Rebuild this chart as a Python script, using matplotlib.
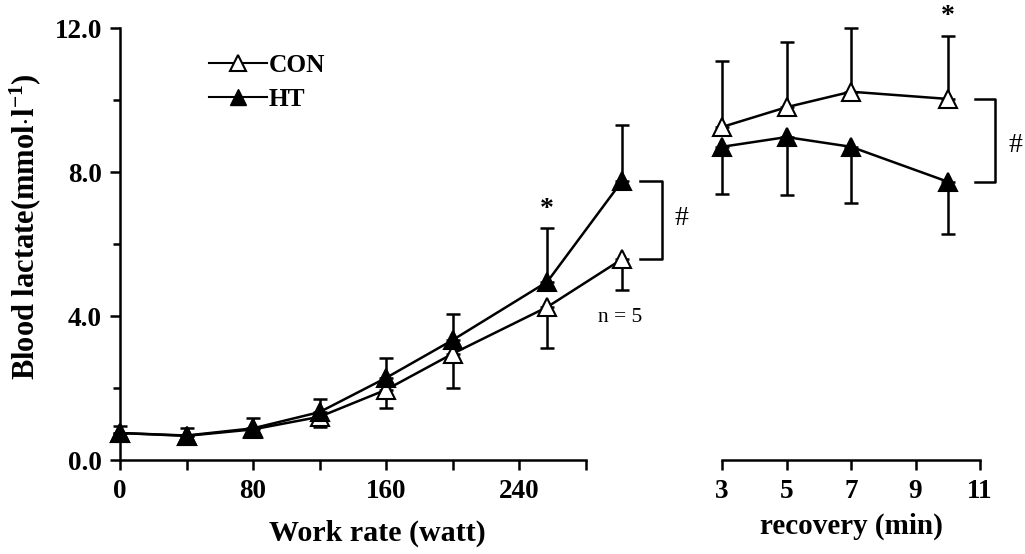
import matplotlib
matplotlib.use("Agg")
import matplotlib.pyplot as plt
from matplotlib.lines import Line2D
import numpy as np

plt.rcParams['font.family'] = ['Liberation Serif', 'DejaVu Serif']
plt.rcParams['mathtext.fontset'] = 'custom'
plt.rcParams['mathtext.rm'] = 'Liberation Serif:bold'
plt.rcParams['mathtext.bf'] = 'Liberation Serif:bold'
plt.rcParams['mathtext.default'] = 'rm'

# ---- data ----
work_rate = [0, 40, 80, 120, 160, 200, 257, 302]
con_work = [0.75, 0.67, 0.85, 1.2, 1.95, 2.95, 4.25, 5.58]
con_work_sd = [0.2, 0.15, 0.2, 0.28, 0.5, 0.95, 1.15, 0.85]
ht_work = [0.75, 0.68, 0.88, 1.33, 2.28, 3.33, 4.95, 7.75]
ht_work_sd = [0.2, 0.2, 0.28, 0.36, 0.55, 0.72, 1.5, 1.55]

recovery = [3, 5, 7, 10]
con_rec = [9.25, 9.8, 10.23, 10.03]
con_rec_sd = [1.83, 1.8, 1.77, 1.75]
ht_rec = [8.7, 8.97, 8.7, 7.73]
ht_rec_sd = [1.3, 1.6, 1.57, 1.45]

x_ticks_work = [0, 40, 80, 120, 160, 200, 240, 280]
x_labels_work = ['0', '', '80', '', '160', '', '240', '']
y_ticks = [0.0, 4.0, 8.0, 12.0]
x_ticks_rec = [3, 5, 7, 9, 11]

W, H = 1025, 554
fig = plt.figure(figsize=(W / 100, H / 100), dpi=100)

def fbox(x0, x1, y_top, y_bot):
    return [x0 / W, 1 - y_bot / H, (x1 - x0) / W, (y_bot - y_top) / H]

# left axes: 0 W -> 120px, 1.6625 px/W ; y 0 -> 460px, 12 -> 28px
axL = fig.add_axes(fbox(120, 120 + 320 * 1.6625, 28, 460))
axR = fig.add_axes(fbox(722, 980, 28, 460))

lw = 1.8
ms = 13
cap = 5
tfs = 19.5
bold = dict(fontweight='bold')

def draw(ax, x, y, sd, filled, lower):
    yerr = [sd, [0] * len(sd)] if lower else [[0] * len(sd), sd]
    ax.errorbar(x, y, yerr=yerr, fmt='none', ecolor='black', elinewidth=lw,
                capsize=cap, capthick=lw, clip_on=False, zorder=2)
    ax.plot(x, y, '-', color='black', lw=lw, marker='^', ms=ms,
            mfc='black' if filled else 'white', mec='black', mew=1.5,
            clip_on=False, zorder=3)

draw(axL, work_rate, con_work, con_work_sd, False, True)
draw(axL, work_rate, ht_work, ht_work_sd, True, False)
draw(axR, recovery, con_rec, con_rec_sd, False, False)
draw(axR, recovery, ht_rec, ht_rec_sd, True, True)

for ax in (axL, axR):
    ax.set_ylim(0, 12)
    ax.spines['top'].set_visible(False)
    ax.spines['right'].set_visible(False)
    ax.spines['bottom'].set_linewidth(lw)
    ax.spines['left'].set_linewidth(lw)
    ax.tick_params(axis='both', which='major', direction='out', length=7,
                   width=lw, labelsize=tfs, pad=7)
    ax.tick_params(axis='both', which='minor', direction='out', length=5, width=lw)
    ax.patch.set_visible(False)

axL.set_xlim(0, 320)
axL.spines['bottom'].set_bounds(0, 280)
axL.spines['left'].set_bounds(0, 12)
axL.set_xticks(x_ticks_work)
axL.set_xticklabels(x_labels_work, **bold)
axL.set_yticks(y_ticks)
axL.set_yticklabels([f'{v:.1f}' for v in y_ticks], **bold)
axL.set_yticks([2, 6, 10], minor=True)
axL.tick_params(axis='y', pad=6)

axR.set_xlim(3, 11)
axR.spines['left'].set_visible(False)
axR.set_yticks([])
axR.set_xticks(x_ticks_rec)
axR.set_xticklabels([str(v) for v in x_ticks_rec], **bold)
axR.spines['bottom'].set_bounds(3, 11)

# brackets and annotations
axL.plot([313, 326, 326, 313], [ht_work[-1], ht_work[-1], con_work[-1], con_work[-1]],
         color='black', lw=lw, clip_on=False)
axL.text(338, 6.7, '#', fontsize=20, ha='center', va='center')
axL.text(257, ht_work[6] + ht_work_sd[6] + 0.5, '*', fontsize=20, ha='center', va='center', **bold)
axL.text(301, 3.95, 'n = 5', fontsize=15.5, ha='center', va='center')

axR.plot([10.84, 11.47, 11.47, 10.84], [con_rec[-1], con_rec[-1], ht_rec[-1], ht_rec[-1]],
         color='black', lw=lw, clip_on=False)
axR.text(12.1, 8.75, '#', fontsize=20, ha='center', va='center')
axR.text(10, con_rec[-1] + con_rec_sd[-1] + 0.55, '*', fontsize=20, ha='center', va='center', **bold)

# legend
handles = [Line2D([], [], color='black', lw=1.5, marker='^', ms=11, mfc='white', mec='black', mew=1.5),
           Line2D([], [], color='black', lw=1.5, marker='^', ms=11, mfc='black', mec='black')]
leg = fig.legend(handles, ['CON', 'HT'], loc='upper left',
                 bbox_to_anchor=(196 / W, 1 - 41 / H), bbox_transform=fig.transFigure,
                 frameon=False, handlelength=2.3, handletextpad=0.05, labelspacing=0.45,
                 borderpad=0, prop=dict(family='Liberation Serif', weight='bold', size=18.3))

fig.text(377 / W, 1 - 533 / H, 'Work rate (watt)', fontsize=21.6, ha='center', va='center', **bold)
fig.text(851 / W, 1 - 526 / H, 'recovery (min)', fontsize=21, ha='center', va='center', **bold)
fig.text(25 / W, 1 - 227 / H, r'Blood lactate(mmol$\cdot$l$^{-1}$)', fontsize=22,
         rotation=90, ha='center', va='center', **bold)

fig.savefig('out.png', dpi=100)
